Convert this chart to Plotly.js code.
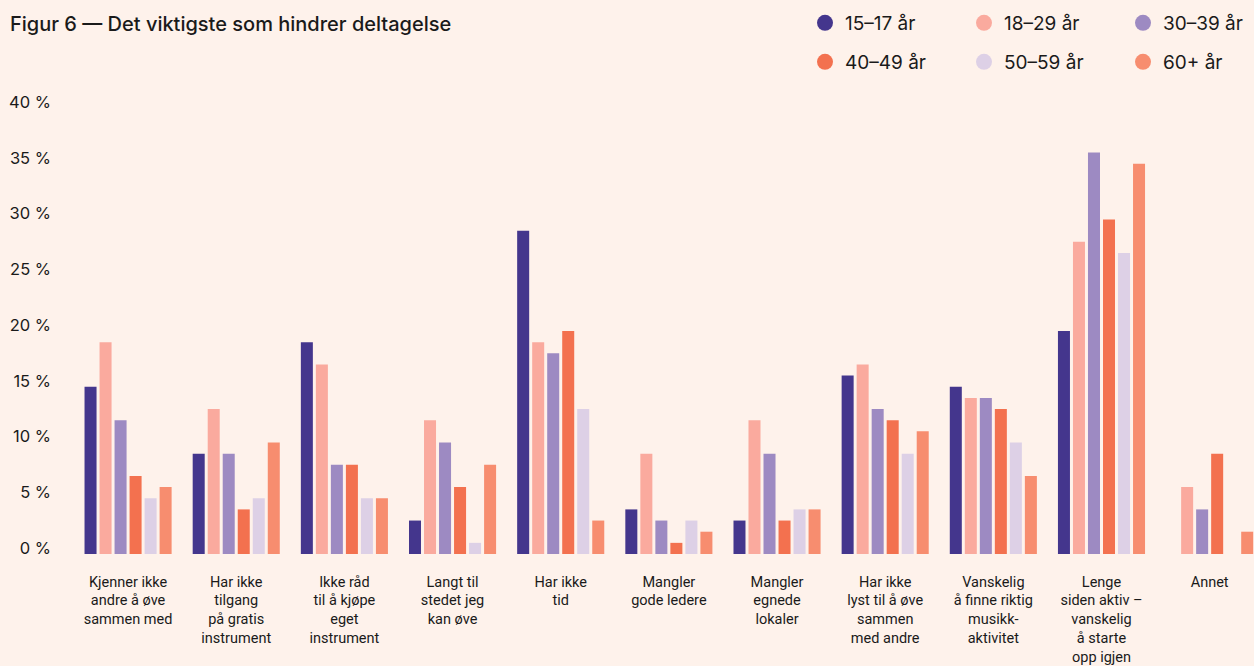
<!DOCTYPE html>
<html>
<head>
<meta charset="utf-8">
<script src="https://cdn.plot.ly/plotly-3.0.1.min.js"></script>
<style>
  html, body { margin: 0; padding: 0; background: #fef2eb; }
  #chart { width: 1254px; height: 666px; }
</style>
</head>
<body>
<div id="chart"></div>
<script>
const categories = [
  "Kjenner ikke<br>andre å øve<br>sammen med",
  "Har ikke<br>tilgang<br>på gratis<br>instrument",
  "Ikke råd<br>til å kjøpe<br>eget<br>instrument",
  "Langt til<br>stedet jeg<br>kan øve",
  "Har ikke<br>tid",
  "Mangler<br>gode ledere",
  "Mangler<br>egnede<br>lokaler",
  "Har ikke<br>lyst til å øve<br>sammen<br>med andre",
  "Vanskelig<br>å finne riktig<br>musikk-<br>aktivitet",
  "Lenge<br>siden aktiv –<br>vanskelig<br>å starte<br>opp igjen",
  "Annet"
];

const seriesNames = ["15–17 år", "18–29 år", "30–39 år", "40–49 år", "50–59 år", "60+ år"];
const seriesColors = ["#44368d", "#faaa9e", "#9d8ac2", "#f3714f", "#ddd0e6", "#f78d6f"];

const age15_17 = [15, 9, 19, 3, 29, 4, 3, 16, 15, 20, null];
const age18_29 = [19, 13, 17, 12, 19, 9, 12, 17, 14, 28, 6];
const age30_39 = [12, 9, 8, 10, 18, 3, 9, 13, 14, 36, 4];
const age40_49 = [7, 4, 8, 6, 20, 1, 3, 12, 13, 30, 9];
const age50_59 = [5, 5, 5, 1, 13, 3, 4, 9, 10, 27, null];
const age60plus = [6, 10, 5, 8, 3, 2, 4, 11, 7, 35, 2];

const yTickVals = [0, 5, 10, 15, 20, 25, 30, 35, 40];
const yTickText = ["0 %", "5 %", "10 %", "15 %", "20 %", "25 %", "30 %", "35 %", "40 %"];

const allSeries = [age15_17, age18_29, age30_39, age40_49, age50_59, age60plus];

const traces = [];
allSeries.forEach((vals, i) => {
  traces.push({
    type: "bar",
    name: seriesNames[i],
    x: categories,
    y: vals,
    marker: { color: seriesColors[i], line: { width: 0 } },
    showlegend: false,
    hoverinfo: "x+y+name"
  });
});
// legend entries (circle glyphs)
allSeries.forEach((vals, i) => {
  traces.push({
    type: "scatter",
    mode: "markers",
    name: seriesNames[i],
    x: [null],
    y: [null],
    marker: { color: seriesColors[i], size: 16, symbol: "circle" },
    showlegend: true,
    legend: i < 3 ? "legend" : "legend2",
    hoverinfo: "skip"
  });
});

const textColor = "#1a1a1a";
const legendCommon = {
  orientation: "h",
  xref: "container",
  yref: "container",
  xanchor: "left",
  yanchor: "middle",
  bgcolor: "rgba(0,0,0,0)",
  font: { family: "Inter, sans-serif", size: 19, color: textColor },
  entrywidth: 114,
  entrywidthmode: "pixels",
  itemclick: false,
  itemdoubleclick: false
};

const layout = {
  width: 1254,
  height: 666,
  paper_bgcolor: "#fef2eb",
  plot_bgcolor: "#fef2eb",
  margin: { l: 74, r: 0, t: 108, b: 112, pad: 0 },
  barmode: "group",
  bargap: 0.167,
  bargroupgap: 0.2,
  title: {
    text: "Figur 6 — Det viktigste som hindrer deltagelse",
    x: 10 / 1254,
    xref: "container",
    xanchor: "left",
    y: 1 - 24 / 666,
    yref: "container",
    yanchor: "middle",
    font: { family: "Inter, sans-serif", size: 20, weight: 500, color: textColor }
  },
  xaxis: {
    type: "category",
    range: [-0.5, 10.41],
    showgrid: false,
    zeroline: false,
    showline: false,
    ticks: "",
    ticklabelstandoff: 17,
    tickangle: 0,
    tickfont: { family: "Roboto, sans-serif", size: 14.5, color: textColor },
    fixedrange: true
  },
  yaxis: {
    range: [0, 40],
    tickvals: yTickVals,
    ticktext: yTickText,
    showgrid: false,
    zeroline: false,
    showline: false,
    ticks: "",
    ticklabelstandoff: 22,
    ticklabelshift: -6,
    tickfont: { family: "Inter, sans-serif", size: 16.5, color: textColor },
    fixedrange: true
  },
  legend: Object.assign({}, legendCommon, { x: 805 / 1254, y: 1 - 23 / 666 }),
  legend2: Object.assign({}, legendCommon, { x: 805 / 1254, y: 1 - 62 / 666 }),
  showlegend: true
};

Plotly.newPlot("chart", traces, layout, { displayModeBar: false, staticPlot: false });
</script>
</body>
</html>
